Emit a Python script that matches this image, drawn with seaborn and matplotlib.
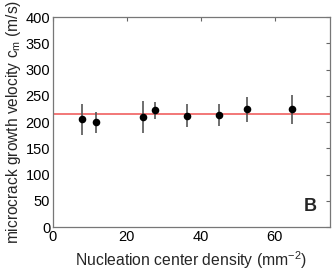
import matplotlib
matplotlib.use("Agg")
import matplotlib.pyplot as plt
import numpy as np
import pandas as pd
import seaborn as sns

# values
density = [8.0, 11.7, 24.3, 27.5, 36.2, 45.0, 52.6, 64.6]
velocity = [205, 200, 210, 222, 212, 214, 224, 224]
velocity_err = [30, 20, 30, 17, 22, 21, 23, 27]
mean_velocity = 216
x_ticks = [0, 20, 40, 60]
y_ticks = [0, 50, 100, 150, 200, 250, 300, 350, 400]

df = pd.DataFrame({"density": density, "velocity": velocity, "err": velocity_err})

sns.set_style("white")
plt.rcParams["font.family"] = ["Liberation Sans", "DejaVu Sans"]
plt.rcParams["mathtext.fontset"] = "custom"
plt.rcParams["mathtext.rm"] = "Liberation Sans"
plt.rcParams["mathtext.it"] = "Liberation Sans"

fig = plt.figure(figsize=(3.35, 2.7), dpi=100)
ax = fig.add_axes([0.158, 0.159, 0.827, 0.778])

ax.axhline(mean_velocity, color="#f06060", lw=1.2, zorder=1)
ax.errorbar(df["density"], df["velocity"], yerr=df["err"], fmt="none",
            ecolor="#555555", elinewidth=1.2, capsize=0, zorder=2)
sns.scatterplot(data=df, x="density", y="velocity", ax=ax, color="black",
                s=30, edgecolor="black", linewidth=0, zorder=3)

ax.set_xlim(0, 75)
ax.set_ylim(0, 400)
ax.set_xticks(x_ticks)
ax.set_yticks(y_ticks)
ax.tick_params(direction="in", length=3, width=0.8, labelsize=10.5,
               top=True, right=True, pad=2, colors="#666666", labelcolor="black")
for s in ax.spines.values():
    s.set_color("#777777")
    s.set_linewidth(0.9)

ax.set_xlabel("Nucleation center density (mm$^{-2}$)", fontsize=11.3, labelpad=4)
ax.set_ylabel("microcrack growth velocity c$_{\\rm m}$ (m/s)", fontsize=11.2, labelpad=2)
ax.text(0.953, 0.057, "B", transform=ax.transAxes, fontsize=13,
        fontweight="bold", ha="right", va="bottom")

fig.savefig("out.png", dpi=100)
